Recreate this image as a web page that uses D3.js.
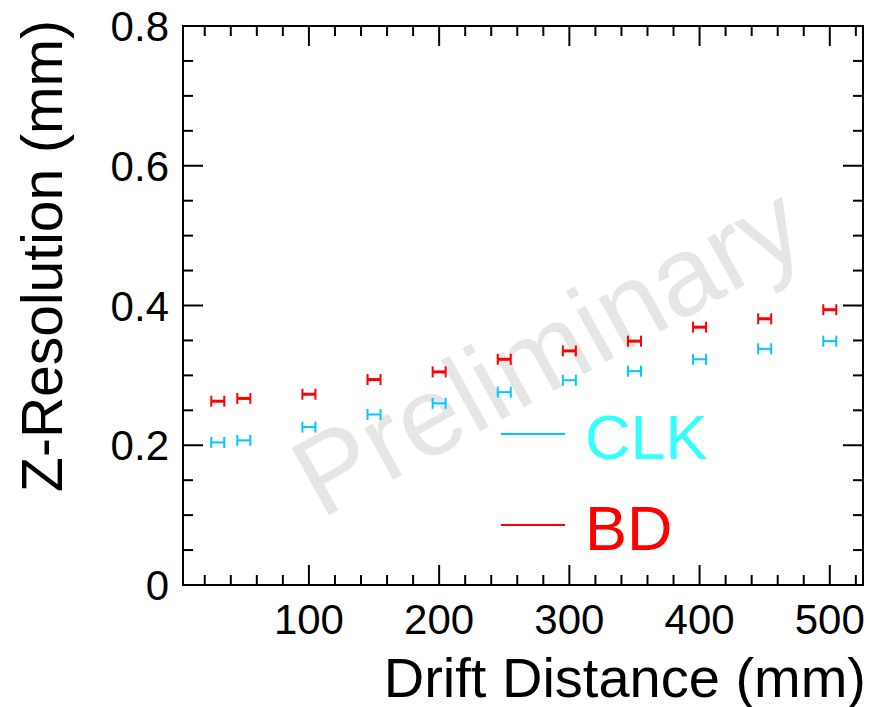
<!DOCTYPE html>
<html>
<head>
<meta charset="utf-8">
<script src="https://d3js.org/d3.v7.min.js"></script>
<style>
  body { margin: 0; background: #fff; }
  svg text { font-family: 'Liberation Sans', Arial, sans-serif; }
</style>
</head>
<body>
<div id="chart"></div>
<script>
// drift distance points (mm)
const distance = [30, 50, 100, 150, 200, 250, 300, 350, 400, 450, 500]
const distErr = 5
// z resolution (mm)
const clkRes = [0.204, 0.207, 0.226, 0.244, 0.260, 0.276, 0.293, 0.306, 0.323, 0.338, 0.349]
const bdRes  = [0.263, 0.267, 0.273, 0.294, 0.305, 0.323, 0.335, 0.349, 0.369, 0.381, 0.394]
const seriesNames = ['CLK', 'BD']
const xTicks = [100, 200, 300, 400, 500]
const yTicks = [0, 0.2, 0.4, 0.6, 0.8]

const W = 871, H = 707
const frame = {left: 183, right: 863, top: 26, bottom: 585}

const svg = d3.select('#chart').append('svg')
  .attr('width', W).attr('height', H)

const x = d3.scaleLinear().domain([3.3, 525.5]).range([frame.left, frame.right])
const y = d3.scaleLinear().domain([0, 0.8]).range([frame.bottom, frame.top])

// watermark
svg.append('text')
  .attr('transform', 'translate(566,384) rotate(-29)')
  .attr('text-anchor', 'middle')
  .style('font-size', '112px')
  .style('fill', '#e6e6e6')
  .text('Preliminary')

// legend box (white, sits over the watermark)
svg.append('rect')
  .attr('x', 565).attr('y', 388).attr('width', 296).attr('height', 195)
  .attr('fill', '#fff')

// ticks on all four sides, ROOT style
const minorX = d3.range(20, 521, 20)
const minorY = d3.range(0, 0.801, 0.05)
const tk = svg.append('g').attr('stroke', '#000').attr('stroke-width', 2)
minorX.forEach(v => {
  const len = (v % 100 === 0) ? 20 : 10
  tk.append('line').attr('x1', x(v)).attr('x2', x(v)).attr('y1', frame.bottom).attr('y2', frame.bottom - len)
  tk.append('line').attr('x1', x(v)).attr('x2', x(v)).attr('y1', frame.top).attr('y2', frame.top + len)
})
minorY.forEach(v => {
  const major = Math.abs(Math.round(v * 5) - v * 5) < 1e-6
  const len = major ? 20 : 10
  tk.append('line').attr('y1', y(v)).attr('y2', y(v)).attr('x1', frame.left).attr('x2', frame.left + len)
  tk.append('line').attr('y1', y(v)).attr('y2', y(v)).attr('x1', frame.right).attr('x2', frame.right - len)
})

svg.append('rect')
  .attr('x', frame.left).attr('y', frame.top)
  .attr('width', frame.right - frame.left).attr('height', frame.bottom - frame.top)
  .attr('fill', 'none').attr('stroke', '#000').attr('stroke-width', 2)

// tick labels
svg.selectAll('.xl').data(xTicks).enter().append('text')
  .attr('x', d => x(d)).attr('y', 634)
  .attr('text-anchor', 'middle')
  .style('font-size', '42px')
  .text(d => d)

svg.selectAll('.yl').data(yTicks).enter().append('text')
  .attr('x', 169).attr('y', d => y(d) + 15)
  .attr('text-anchor', 'end')
  .style('font-size', '42px')
  .text(d => d === 0 ? '0' : d.toFixed(1))

// axis titles
svg.append('text')
  .attr('x', 866).attr('y', 697)
  .attr('text-anchor', 'end')
  .style('font-size', '56px')
  .text('Drift Distance (mm)')

svg.append('text')
  .attr('transform', 'translate(62,20) rotate(-90)')
  .attr('text-anchor', 'end')
  .style('font-size', '57px')
  .text('Z-Resolution (mm)')

// data points drawn as H-shaped x error bars
function drawSeries(vals, color, bw) {
  const g = svg.append('g').attr('stroke', color)
  distance.forEach((d, i) => {
    const cx = x(d), cy = y(vals[i])
    const x0 = x(d - distErr), x1 = x(d + distErr)
    g.append('line').attr('x1', x0).attr('x2', x1).attr('y1', cy).attr('y2', cy).attr('stroke-width', bw)
    g.append('line').attr('x1', x0).attr('x2', x0).attr('y1', cy - 5.5).attr('y2', cy + 5.5).attr('stroke-width', 2)
    g.append('line').attr('x1', x1).attr('x2', x1).attr('y1', cy - 5.5).attr('y2', cy + 5.5).attr('stroke-width', 2)
  })
}
drawSeries(clkRes, '#00c8ff', 2)
drawSeries(bdRes, '#ff0000', 3)

// legend
const legColors = ['#00c8ff', '#ff0000']
const legText = ['#33ffff', '#ff0000']
const legY = [434, 525]
seriesNames.forEach((n, i) => {
  svg.append('line')
    .attr('x1', 501).attr('x2', 565).attr('y1', legY[i]).attr('y2', legY[i])
    .attr('stroke', legColors[i]).attr('stroke-width', 2)
  svg.append('text')
    .attr('x', 585).attr('y', legY[i] + 25)
    .style('font-size', '63px')
    .style('fill', legText[i])
    .text(n)
})
</script>
</body>
</html>
